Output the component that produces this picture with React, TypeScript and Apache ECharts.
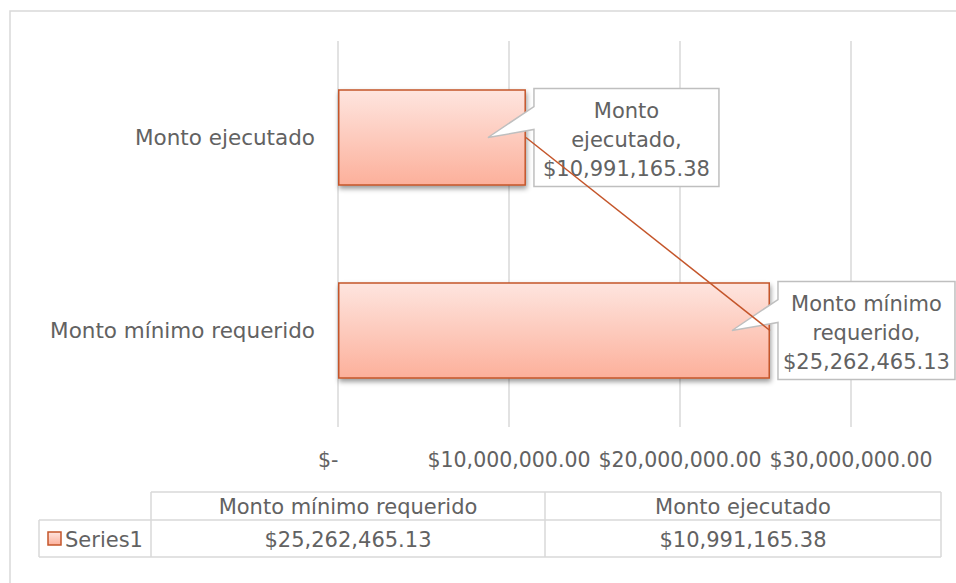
import React, { useEffect, useRef } from "react";
import * as echarts from "echarts";

// ---- data ----
const categories: string[] = ["Monto mínimo requerido", "Monto ejecutado"];
const values: number[] = [25262465.13, 10991165.38];
const calloutNames: string[] = ["Monto mínimo\nrequerido", "Monto\nejecutado"];
const seriesName = "Series1";
const axisMin = 0;
const axisMax = 30000000;
const axisInterval = 10000000;

const FONT = "'DejaVu Sans', sans-serif";
const TEXT = "#626262";
const BORDER = "#d9d9d9";
const BAR_EDGE = "#c4552a";

const fmtMoney = (v: number) =>
  v === 0
    ? "$-"
    : "$" +
      v.toLocaleString("en-US", {
        minimumFractionDigits: 2,
        maximumFractionDigits: 2,
      });

const barFill = () =>
  new echarts.graphic.LinearGradient(0, 0, 0, 1, [
    { offset: 0, color: "#fee5df" },
    { offset: 1, color: "#fcb09b" },
  ]);

export default function App() {
  const ref = useRef<HTMLDivElement>(null);
  useEffect(() => {
    if (!ref.current) return;
    const chart = echarts.init(ref.current, undefined, { renderer: "svg" });
    const base: any = {
      animation: false,
      grid: { left: 338, right: 105, top: 41, bottom: 156, containLabel: false },
      xAxis: {
        type: "value",
        min: axisMin,
        max: axisMax,
        interval: axisInterval,
        axisLine: { show: false },
        axisTick: { show: false },
        splitLine: { lineStyle: { color: BORDER, width: 1.5 } },
        axisLabel: {
          formatter: (v: number) => (v === 0 ? "$-   " : fmtMoney(v)),
          color: TEXT,
          fontFamily: FONT,
          fontSize: 20.5,
          margin: 22,
        },
      },
      yAxis: {
        type: "category",
        data: categories,
        axisLine: { show: false },
        axisTick: { show: false },
        splitLine: { show: false },
        axisLabel: {
          color: TEXT,
          fontFamily: FONT,
          fontSize: 21.5,
          margin: 23,
        },
      },
      series: [
        {
          type: "bar",
          name: seriesName,
          data: values,
          barWidth: "50%",
          z: 2,
          itemStyle: {
            color: barFill(),
            borderColor: BAR_EDGE,
            borderWidth: 1.5,
            shadowColor: "rgba(0,0,0,0.4)",
            shadowBlur: 5,
            shadowOffsetX: 1,
            shadowOffsetY: 3,
          },
        },
        {
          type: "line",
          data: values,
          symbol: "none",
          z: 10,
          lineStyle: { color: BAR_EDGE, width: 1.5 },
        },
      ],
    };
    chart.setOption(base);

    const graphics: any[] = [];
    // outer chart border
    graphics.push({
      type: "rect",
      z: -1,
      silent: true,
      shape: { x: 10, y: 11, width: 1000, height: 1000 },
      style: { fill: "none", stroke: BORDER, lineWidth: 1.5 },
    });

    // callouts
    const boxWidths = [177, 185];
    values.forEach((v, i) => {
      const p = chart.convertToPixel({ xAxisIndex: 0, yAxisIndex: 0 }, [v, i]) as number[];
      const ex = p[0];
      const ey = p[1];
      const bx = ex + 8;
      const w = boxWidths[i];
      const top = ey - 49;
      const bot = ey + 49;
      graphics.push({
        type: "polygon",
        z: 5,
        silent: true,
        shape: {
          points: [
            [bx, top],
            [bx + w, top],
            [bx + w, bot],
            [bx, bot],
            [bx, ey - 8],
            [ex - 38, ey],
            [bx, ey - 31],
          ],
        },
        style: { fill: "#ffffff", stroke: "#bfbfbf", lineWidth: 1.5 },
      });
      graphics.push({
        type: "text",
        z: 6,
        silent: true,
        x: bx + w / 2,
        y: ey + 2,
        style: {
          text: calloutNames[i] + ",\n" + fmtMoney(v),
          align: "center",
          verticalAlign: "middle",
          lineHeight: 29,
          fill: TEXT,
          font: `21px ${FONT}`,
        },
      });
    });

    // data table
    const tLeft = 151;
    const tMid = 545;
    const tRight = 941;
    const kLeft = 39;
    const hTop = 492;
    const rMid = 520;
    const rBot = 557;
    const ls = { stroke: BORDER, lineWidth: 1.5 };
    const line = (x1: number, y1: number, x2: number, y2: number) => ({
      type: "line",
      silent: true,
      shape: { x1, y1, x2, y2 },
      style: ls,
    });
    graphics.push(line(tLeft, hTop, tRight, hTop));
    graphics.push(line(kLeft, rMid, tRight, rMid));
    graphics.push(line(kLeft, rBot, tRight, rBot));
    graphics.push(line(kLeft, rMid, kLeft, rBot));
    graphics.push(line(tLeft, hTop, tLeft, rBot));
    graphics.push(line(tMid, hTop, tMid, rBot));
    graphics.push(line(tRight, hTop, tRight, rBot));
    const cols = [(tLeft + tMid) / 2, (tMid + tRight) / 2];
    categories.forEach((c, i) => {
      graphics.push({
        type: "text",
        silent: true,
        x: cols[i],
        y: (hTop + rMid) / 2 + 1,
        style: { text: c, align: "center", verticalAlign: "middle", fill: TEXT, font: `21px ${FONT}` },
      });
      graphics.push({
        type: "text",
        silent: true,
        x: cols[i],
        y: (rMid + rBot) / 2 + 1,
        style: {
          text: fmtMoney(values[i]),
          align: "center",
          verticalAlign: "middle",
          fill: TEXT,
          font: `21px ${FONT}`,
        },
      });
    });
    graphics.push({
      type: "rect",
      silent: true,
      shape: { x: 48, y: 532, width: 13, height: 13 },
      style: { fill: barFill(), stroke: BAR_EDGE, lineWidth: 1.5 },
    });
    graphics.push({
      type: "text",
      silent: true,
      x: 65,
      y: (rMid + rBot) / 2 + 1,
      style: { text: seriesName, align: "left", verticalAlign: "middle", fill: TEXT, font: `21px ${FONT}` },
    });

    chart.setOption({ graphic: graphics });
    return () => chart.dispose();
  }, []);
  return (
    <div
      ref={ref}
      style={{ position: "fixed", left: 0, top: 0, width: 956, height: 583, background: "#fff" }}
    />
  );
}
